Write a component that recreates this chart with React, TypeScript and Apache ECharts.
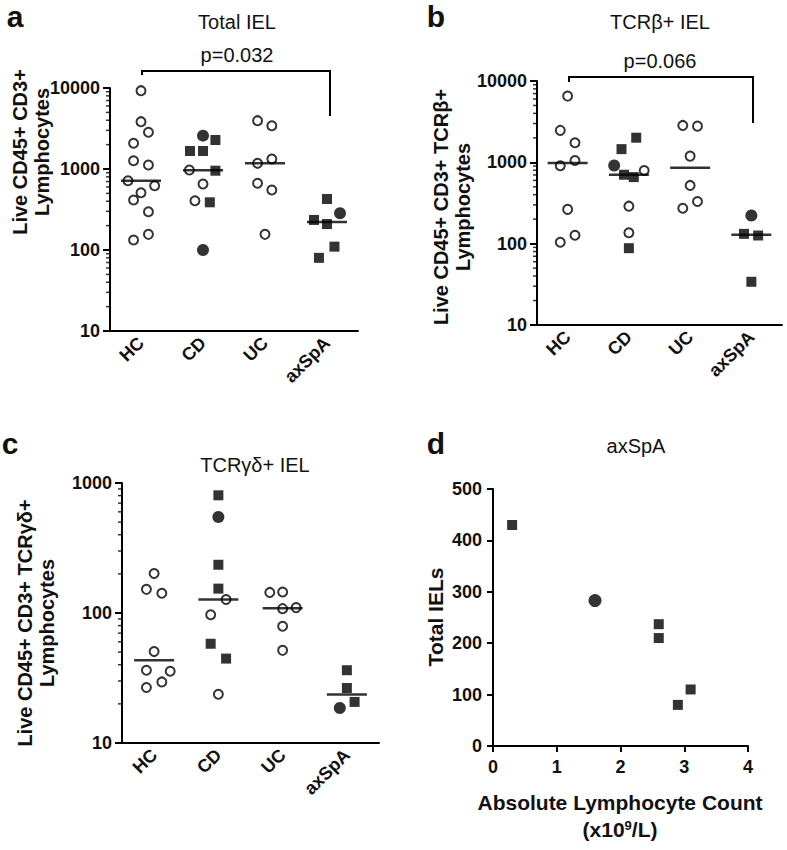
import React, { useEffect, useRef } from "react";
import * as echarts from "echarts";

const FONT = "'Liberation Sans', Arial, Helvetica, sans-serif";
const groups = ["HC", "CD", "UC", "axSpA"];

// [value, horizontal jitter in category widths, marker: o = open circle, c = filled circle, s = square]
type Pt = [number, number, string];

// a: Total IEL
const totalHC: Pt[] = [[9270, 0, "o"], [3840, 0, "o"], [2840, 0.12, "o"], [2080, -0.12, "o"], [1265, -0.12, "o"], [1120, 0.12, "o"], [717, -0.21, "o"], [622, 0.22, "o"], [510, 0, "o"], [414, -0.12, "o"], [297, 0.12, "o"], [156, 0.12, "o"], [133, -0.12, "o"]];
const totalCD: Pt[] = [[2580, 0, "c"], [2280, 0.2, "s"], [1667, -0.21, "s"], [1667, 0, "s"], [972, -0.22, "o"], [953, 0.2, "s"], [653, 0, "o"], [406, -0.13, "o"], [388, 0.11, "s"], [100, 0, "c"]];
const totalUC: Pt[] = [[3950, -0.12, "o"], [3425, 0.11, "o"], [1328, 0.11, "o"], [1175, -0.12, "o"], [666, -0.12, "o"], [550, 0.11, "o"], [156, 0, "o"]];
const totalAx: Pt[] = [[426, 0, "s"], [284, 0.21, "c"], [235, -0.21, "s"], [209, 0, "s"], [110, 0.12, "s"], [80, -0.13, "s"]];

// b: TCRβ+ IEL
const abHC: Pt[] = [[6520, 0, "o"], [2470, -0.12, "o"], [1742, 0.12, "o"], [1055, 0.12, "o"], [908, -0.12, "o"], [264, 0, "o"], [127, 0.12, "o"], [104, -0.12, "o"]];
const abCD: Pt[] = [[2008, 0.12, "s"], [1453, -0.12, "s"], [916, -0.24, "c"], [795, 0.25, "o"], [704, -0.08, "s"], [658, 0.08, "s"], [289, 0, "o"], [136, 0, "o"], [88, 0, "s"]];
const abUC: Pt[] = [[2844, -0.12, "o"], [2787, 0.12, "o"], [1192, 0, "o"], [520, 0, "o"], [330, 0.12, "o"], [273, -0.12, "o"]];
const abAx: Pt[] = [[222, 0, "c"], [132, -0.12, "s"], [126, 0.11, "s"], [34, 0, "s"]];

// c: TCRγδ+ IEL
const gdHC: Pt[] = [[201, 0, "o"], [152, -0.12, "o"], [142, 0.12, "o"], [50.5, 0, "o"], [36.3, -0.12, "o"], [35.6, 0.25, "o"], [29.5, 0.12, "o"], [26.7, -0.12, "o"]];
const gdCD: Pt[] = [[804, 0, "s"], [548, 0, "c"], [235, 0, "s"], [154, 0, "s"], [127, 0.12, "o"], [97, -0.12, "o"], [58, -0.12, "s"], [44.6, 0.12, "s"], [23.7, 0, "o"]];
const gdUC: Pt[] = [[144, -0.2, "o"], [145, 0, "o"], [108, 0, "o"], [110, 0.21, "o"], [79, 0, "o"], [51.6, 0, "o"]];
const gdAx: Pt[] = [[36.3, 0, "s"], [26.5, 0, "s"], [20.7, 0.12, "s"], [18.6, -0.11, "c"]];

// d: axSpA, total IELs vs absolute lymphocyte count
const alc = [0.3, 1.6, 2.6, 2.6, 3.1, 2.9];
const iels = [430, 283, 237, 210, 110, 80];
const dMarkers = ["s", "c", "s", "s", "s", "s"];

const BLACK = "#000";
const TEXT = "#111";
const line = { color: BLACK, width: 2 };
const tickLabel = { fontSize: 18, fontWeight: "bold" as const, color: TEXT, fontFamily: FONT };

const median = (vals: number[]) => {
  const s = [...vals].sort((a, b) => a - b);
  const n = s.length;
  return n % 2 ? s[(n - 1) / 2] : (s[n / 2 - 1] + s[n / 2]) / 2;
};

const markerStyle: Record<string, any> = {
  o: { symbol: "circle", symbolSize: 9, itemStyle: { color: "#fff", borderColor: BLACK, borderWidth: 2 } },
  c: { symbol: "circle", symbolSize: 12, itemStyle: { color: BLACK } },
  s: { symbol: "rect", symbolSize: 10, itemStyle: { color: BLACK } },
};

function dotSeries(data: Pt[][], xi: number, yi: number) {
  const pick = (m: string) =>
    data.flatMap((g, i) => g.filter((p) => p[2] === m).map((p) => [i + p[1], p[0]]));
  const out: any[] = ["o", "c", "s"].map((m) => ({
    type: "scatter",
    xAxisIndex: xi,
    yAxisIndex: yi,
    ...markerStyle[m],
    data: pick(m),
    z: 3,
  }));
  out.push({
    type: "scatter",
    xAxisIndex: xi,
    yAxisIndex: yi,
    symbol: "rect",
    symbolSize: [40, 2.5],
    itemStyle: { color: BLACK },
    z: 5,
    data: data.map((g, i) => [i, median(g.map((p) => p[0]))]),
  });
  return out;
}

function minorTicks(lo: number, hi: number, xi: number, yi: number) {
  const vals: number[][] = [];
  for (let d = lo; d < hi; d *= 10) for (let k = 2; k <= 9; k++) vals.push([-0.5, k * d]);
  return {
    type: "scatter",
    xAxisIndex: xi,
    yAxisIndex: yi,
    symbol: "rect",
    symbolSize: [4, 1.5],
    symbolOffset: [-2, 0],
    clip: false,
    silent: true,
    itemStyle: { color: BLACK },
    data: vals,
  };
}

const catAxis = (gi: number) => ({
  type: "category",
  gridIndex: gi,
  data: groups,
  boundaryGap: true,
  axisLine: { onZero: false, lineStyle: line },
  axisTick: { alignWithLabel: true, length: 6, lineStyle: line },
  axisLabel: { ...tickLabel, rotate: 45, margin: 9, interval: 0 },
  splitLine: { show: false },
});
const posAxis = (gi: number) => ({ type: "value", gridIndex: gi, min: -0.5, max: 3.5, show: false });
const logAxis = (gi: number, max: number) => ({
  type: "log",
  logBase: 10,
  gridIndex: gi,
  min: 10,
  max,
  axisLine: { show: true, onZero: false, lineStyle: line },
  axisTick: { show: true, length: 7, lineStyle: line },
  axisLabel: { ...tickLabel, margin: 10, formatter: (v: number) => String(Math.round(v)) },
  splitLine: { show: false },
});

const txt = (x: number, y: number, text: string, size: number, weight: string, extra: any = {}) => ({
  type: "text",
  x,
  y,
  silent: true,
  ...extra,
  style: {
    text,
    fill: TEXT,
    fontSize: size,
    fontWeight: weight,
    fontFamily: FONT,
    align: "center",
    verticalAlign: "middle",
    ...(extra.style || {}),
  },
});

export default function App() {
  const ref = useRef<HTMLDivElement>(null);
  useEffect(() => {
    if (!ref.current) return;
    const chart = echarts.init(ref.current, undefined, { renderer: "svg" });
    const option: any = {
      animation: false,
      backgroundColor: "#fff",
      grid: [
        { left: 110, top: 88, width: 248, height: 243 },
        { left: 537, top: 81, width: 245, height: 244 },
        { left: 122, top: 483, width: 257, height: 260 },
        { left: 493, top: 489, width: 255, height: 257 },
      ],
      xAxis: [
        catAxis(0), posAxis(0),
        catAxis(1), posAxis(1),
        catAxis(2), posAxis(2),
        {
          type: "value", gridIndex: 3, min: 0, max: 4, interval: 1,
          axisLine: { onZero: false, lineStyle: line },
          axisTick: { show: true, length: 6, lineStyle: line },
          axisLabel: { ...tickLabel, margin: 12 },
          splitLine: { show: false },
        },
      ],
      yAxis: [
        logAxis(0, 10000),
        logAxis(1, 10000),
        logAxis(2, 1000),
        {
          type: "value", gridIndex: 3, min: 0, max: 500, interval: 100,
          axisLine: { show: true, onZero: false, lineStyle: line },
          axisTick: { show: true, length: 6, lineStyle: line },
          axisLabel: { ...tickLabel, margin: 11 },
          splitLine: { show: false },
        },
      ],
      series: [
        minorTicks(10, 10000, 1, 0),
        ...dotSeries([totalHC, totalCD, totalUC, totalAx], 1, 0),
        minorTicks(10, 10000, 3, 1),
        ...dotSeries([abHC, abCD, abUC, abAx], 3, 1),
        minorTicks(10, 1000, 5, 2),
        ...dotSeries([gdHC, gdCD, gdUC, gdAx], 5, 2),
        ...["s", "c"].map((m) => ({
          type: "scatter",
          xAxisIndex: 6,
          yAxisIndex: 3,
          ...markerStyle[m],
          symbolSize: m === "s" ? 10 : 13,
          data: alc.map((x, i) => [x, iels[i]]).filter((_, i) => dMarkers[i] === m),
        })),
      ],
      graphic: [
        // panel letters
        txt(15, 16, "a", 30, "bold"),
        txt(436, 16, "b", 30, "bold"),
        txt(10, 443, "c", 30, "bold"),
        txt(436, 443, "d", 30, "bold"),
        // titles
        txt(237, 22, "Total IEL", 20, "normal"),
        txt(660, 22, "TCRβ+ IEL", 20, "normal"),
        txt(255, 465, "TCRγδ+ IEL", 20, "normal"),
        txt(636, 446, "axSpA", 20, "normal"),
        // p-values
        txt(237, 55, "p=0.032", 20, "normal"),
        txt(660, 61, "p=0.066", 20, "normal"),
        {
          type: "polyline", silent: true,
          shape: { points: [[142, 75], [142, 71], [330, 71], [330, 116]] },
          style: { stroke: BLACK, lineWidth: 2, fill: null },
        },
        {
          type: "polyline", silent: true,
          shape: { points: [[569, 82], [569, 77], [753, 77], [753, 123]] },
          style: { stroke: BLACK, lineWidth: 2, fill: null },
        },
        // y-axis names
        txt(31, 152, "Live CD45+ CD3+\nLymphocytes", 20, "bold", { rotation: Math.PI / 2, style: { lineHeight: 22 } }),
        txt(452, 207, "Live CD45+ CD3+ TCRβ+\nLymphocytes", 20, "bold", { rotation: Math.PI / 2, style: { lineHeight: 22 } }),
        txt(36, 623, "Live CD45+ CD3+ TCRγδ+\nLymphocytes", 20, "bold", { rotation: Math.PI / 2, style: { lineHeight: 22 } }),
        txt(435, 617, "Total IELs", 21, "bold", { rotation: Math.PI / 2 }),
        // x-axis name panel d
        txt(620, 802, "Absolute Lymphocyte Count", 21, "bold"),
        {
          type: "text", x: 620, y: 829, silent: true,
          style: {
            text: "(x10{sup|9}/L)",
            fill: TEXT, fontSize: 21, fontWeight: "bold", fontFamily: FONT,
            align: "center", verticalAlign: "middle",
            rich: { sup: { fontSize: 13, fontWeight: "bold", fontFamily: FONT, fill: TEXT, verticalAlign: "top", padding: [0, 0, 8, 0] } },
          },
        },
      ],
    };
    chart.setOption(option);
    return () => chart.dispose();
  }, []);
  return <div ref={ref} style={{ position: "absolute", left: 0, top: 0, width: 787, height: 850 }} />;
}
